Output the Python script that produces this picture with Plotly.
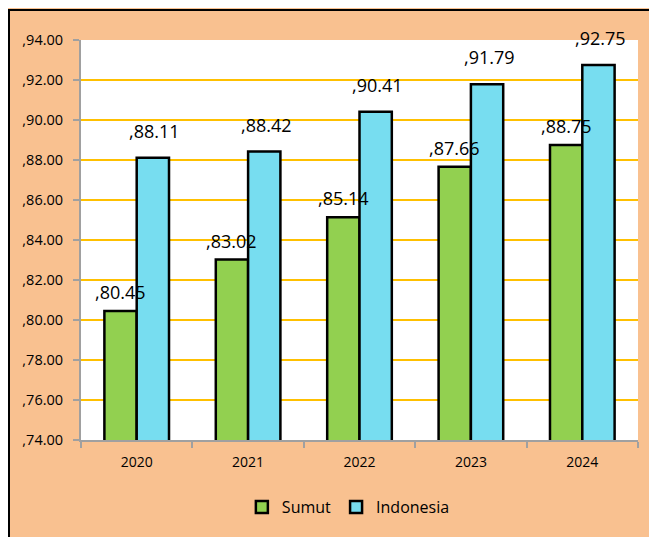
import plotly.graph_objects as go

years = ["2020", "2021", "2022", "2023", "2024"]
sumut = [80.45, 83.02, 85.14, 87.66, 88.75]
indonesia = [88.11, 88.42, 90.41, 91.79, 92.75]
y_ticks = [74, 76, 78, 80, 82, 84, 86, 88, 90, 92, 94]
y_tick_text = [",%.2f" % v for v in y_ticks]

# page has an 8px body margin; figure sized to fit the window
W, H = 649, 529
L, R, T, B = 73, 19, 32, 97
pw = W - L - R
ph = H - T - B
BARGAP = 0.42
bar_w = pw / len(years) * (1 - BARGAP) / 2

fig = go.Figure()
fig.add_trace(go.Bar(
    x=years, y=sumut, name="Sumut",
    marker=dict(color="#92D050", line=dict(color="#000000", width=2.5)),
))
fig.add_trace(go.Bar(
    x=years, y=indonesia, name="Indonesia",
    marker=dict(color="#77DDF0", line=dict(color="#000000", width=2.5)),
))

# category axis: annotation x given as category index
for vals, xs, ys in ((sumut, -bar_w / 2, 5), (indonesia, bar_w / 2 + 2, 13)):
    for i, v in enumerate(vals):
        fig.add_annotation(x=i, y=v, text=",%.2f" % v, showarrow=False,
                           xshift=xs, yshift=ys, yanchor="bottom",
                           font=dict(size=18, color="#000000", family="Open Sans"))

fig.update_layout(
    width=W, height=H,
    margin=dict(l=L, r=R, t=T, b=B, autoexpand=False),
    paper_bgcolor="#F9C190",
    plot_bgcolor="#FFFFFF",
    barmode="group",
    bargap=BARGAP,
    bargroupgap=0,
    font=dict(family="Open Sans", size=14, color="#000000"),
    showlegend=True,
    legend=dict(orientation="h", x=0.48, xanchor="center", y=-(499 - 432) / ph, yanchor="middle",
                font=dict(size=16), bgcolor="rgba(0,0,0,0)", itemwidth=30),
    xaxis=dict(type="category", range=[-0.5, len(years) - 0.5],
               showline=True, linecolor="#A0A0A0", linewidth=2,
               ticks="outside", tickcolor="#A0A0A0", ticklen=6, tickwidth=2,
               tickson="boundaries", tickfont=dict(size=14), automargin=False,
               ticklabelstandoff=8, tickangle=0),
    yaxis=dict(range=[74, 94], tickvals=y_ticks, ticktext=y_tick_text,
               showline=True, linecolor="#A0A0A0", linewidth=2,
               ticks="outside", tickcolor="#A0A0A0", ticklen=6, tickwidth=2,
               showgrid=True, gridcolor="#FFC000", gridwidth=2,
               tickfont=dict(size=14.5), zeroline=False, automargin=False,
               ticklabelstandoff=7),
)

fig.add_shape(type="rect", xref="paper", yref="paper",
              x0=(1 - L) / pw, x1=(W + 5 - L) / pw,
              y0=-(H + 5 - (T + ph)) / ph, y1=1 + (T - 2) / ph,
              line=dict(color="#000000", width=2), fillcolor="rgba(0,0,0,0)", layer="below")

fig.write_html("out.html")
